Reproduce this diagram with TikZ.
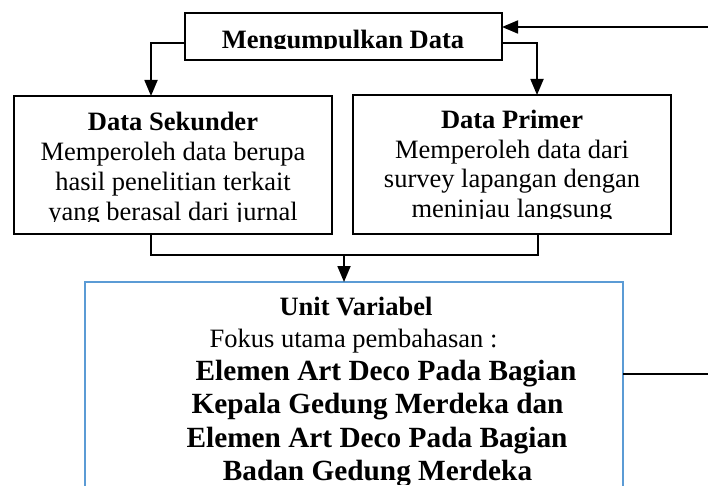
\documentclass[tikz,border=0pt]{standalone}
\usepackage{fontspec}
\setmainfont{Liberation Serif}
\usetikzlibrary{arrows.meta}
\definecolor{boxblue}{HTML}{5B9BD5}
\tikzset{
  blackbox/.style={draw=black, line width=2pt, rectangle, inner sep=0pt, outer sep=0pt},
  bluebox/.style={draw=boxblue, line width=2.6pt, rectangle, inner sep=0pt, outer sep=0pt},
  conn/.style={line width=1.8pt},
  arr/.style={conn, -{Triangle[length=16pt,width=13pt]}},
  body/.style={anchor=base, inner sep=0pt, font=\fontsize{26.5}{30}\selectfont},
  title/.style={anchor=base, inner sep=0pt, font=\fontsize{26.5}{30}\selectfont\bfseries},
  big/.style={anchor=base, inner sep=0pt, font=\fontsize{29.3}{33}\selectfont\bfseries},
}
\begin{document}
\begin{tikzpicture}[x=1pt,y=-1pt]
\useasboundingbox (0,0) rectangle (708,486);
\fill[white] (0,0) rectangle (708,486);

% boxes
\node[blackbox, minimum width=317pt, minimum height=47pt] (top) at (343.5,36.5) {};
\node[blackbox, minimum width=318pt, minimum height=138pt] (sek) at (173,165) {};
\node[blackbox, minimum width=318pt, minimum height=139pt] (pri) at (512,164.5) {};
\node[bluebox, minimum width=538pt, minimum height=218pt] (unit) at (354,391) {};

% texts
\begin{scope}
  \clip (185,13) rectangle (502,49);
  \node[title] (topT) at (343,48.5) {Mengumpulkan Data};
\end{scope}

\begin{scope}
  \clip (14,96) rectangle (332,221.5);
  \node[title] (sekT) at (173,131) {Data Sekunder};
  \node[body] (sek1) at (173,161) {Memperoleh data berupa};
  \node[body] (sek2) at (173,190.5) {hasil penelitian terkait};
  \node[body] (sek3) at (173,220) {yang berasal dari jurnal};
\end{scope}

\begin{scope}
  \clip (353,95) rectangle (671,218.5);
  \node[title] (priT) at (512,129) {Data Primer};
  \node[body] (pri1) at (512,158.5) {Memperoleh data dari};
  \node[body] (pri2) at (512,188) {survey lapangan dengan};
  \node[body] (pri3) at (512,217.5) {meninjau langsung};
\end{scope}

\begin{scope}
  \clip (85,282) rectangle (623,484);
  \node[title] (unitT) at (356,315) {Unit Variabel};
  \node[body] (unit0) at (353.5,347) {Fokus utama pembahasan :};
  \node[big] (unit1) at (386,380) {Elemen Art Deco Pada Bagian};
  \node[big] (unit2) at (377.5,413.5) {Kepala Gedung Merdeka dan};
  \node[big] (unit3) at (377,447) {Elemen Art Deco Pada Bagian};
  \node[big] (unit4) at (377.5,480) {Badan Gedung Merdeka};
\end{scope}

% connectors
\coordinate (inR) at (708,27);
\coordinate (outR) at (708,374);
\coordinate (j) at (344,255);
\draw[arr] (inR) -- (top.east |- inR);
\draw[arr] ([yshift=-6.5pt]top.west) -| ([xshift=-22pt]sek.north);
\draw[arr] ([yshift=-6.5pt]top.east) -| ([xshift=25pt]pri.north);
\draw[conn] ([xshift=-22pt]sek.south) -- ++(0,21) -| ([xshift=26pt]pri.south);
\draw[arr] (j) -- (j |- unit.north);
\draw[conn] (unit.east |- outR) -- (outR);
\end{tikzpicture}
\end{document}
